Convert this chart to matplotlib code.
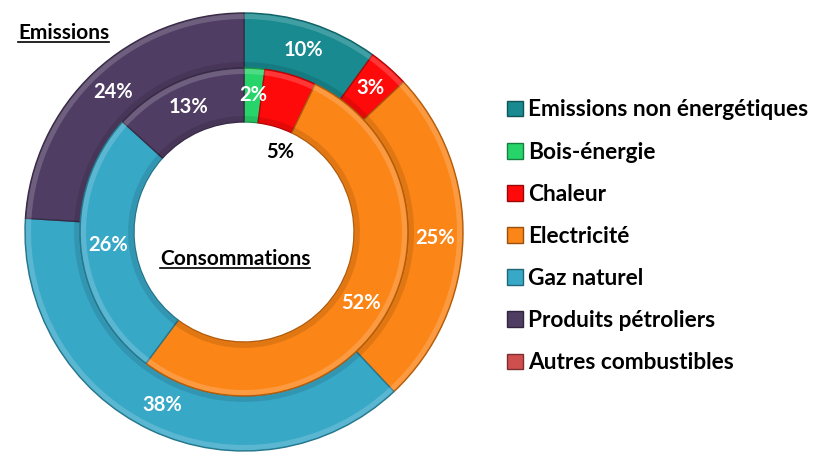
import matplotlib
matplotlib.use("Agg")
import matplotlib.pyplot as plt
import numpy as np
from matplotlib.patches import Patch, Wedge
from matplotlib.colors import to_rgb

plt.rcParams['font.family'] = ['Lato', 'DejaVu Sans']

categories = ['Emissions non énergétiques', 'Bois-énergie', 'Chaleur', 'Electricité',
              'Gaz naturel', 'Produits pétroliers', 'Autres combustibles']
colors = ['#188a90', '#27d46a', '#ff0a0a', '#fb8516', '#38a8c7', '#503d63', '#cf4f4f']

# outer ring: emissions, inner ring: consumption (percent)
emissions = [10, 0, 3, 25, 38, 24, 0]
consommations = [0, 2, 5, 52, 26, 13, 0]


def darker(c, f=0.75):
    r, g, b = to_rgb(c)
    return (r * f, g * f, b * f)


fig = plt.figure(figsize=(8.22, 4.55), dpi=100)
ax = fig.add_axes([0, 0, 1, 1])

cx, cy = 244, 223
r_out, r_mid, r_in = 219, 164, 110


def ring(values, radius, width, label_r, special=None):
    vals = [v for v in values if v > 0]
    cols = [c for v, c in zip(values, colors) if v > 0]
    wedges, _ = ax.pie(vals, colors=cols, radius=radius, center=(cx, cy),
                       startangle=90, counterclock=False, frame=True,
                       wedgeprops=dict(width=width, edgecolor='none'))
    for w, c in zip(wedges, cols):
        w.set_edgecolor(darker(c, 0.7))
        w.set_linewidth(1.0)
        # soft bevel: light rim on the outside, shade on the inside
        ax.add_patch(Wedge((cx, cy), radius - 1, w.theta1, w.theta2, width=5,
                           facecolor='white', alpha=0.18, edgecolor='none'))
        ax.add_patch(Wedge((cx, cy), radius - width + 6, w.theta1, w.theta2, width=5,
                           facecolor='black', alpha=0.10, edgecolor='none'))
    for w, v in zip(wedges, vals):
        ang = np.deg2rad((w.theta1 + w.theta2) / 2)
        rr, col = label_r, 'white'
        if special and v in special:
            rr, ang_deg = special[v]
            ang = np.deg2rad(ang_deg)
            col = 'black'
        ax.text(cx + rr * np.cos(ang), cy + rr * np.sin(ang), f'{v}%',
                ha='center', va='center', fontsize=14.5, fontweight='bold', color=col)
    return wedges


ring(emissions, r_out, r_out - r_mid, (r_out + r_mid) / 2)
ring(consommations, r_mid, r_mid - r_in, (r_mid + r_in) / 2, special={5: (88, 66)})
ax.set_xlim(0, 822)
ax.set_ylim(0, 455)
ax.set_aspect('equal')
ax.axis('off')

# ring titles, underlined
fig.canvas.draw()
rend = fig.canvas.get_renderer()
for txt, x, y in [('Emissions', 18, 422), ('Consommations', 160, 196)]:
    t = ax.text(x, y, txt, ha='left', va='center', fontsize=15, fontweight='bold', color='black')
    bb = t.get_window_extent(rend).transformed(ax.transData.inverted())
    ax.plot([bb.x0, bb.x1], [bb.y0 + 1, bb.y0 + 1], color='black', lw=1.2)

handles = [Patch(facecolor=c, edgecolor=darker(c, 0.6)) for c in colors]
ax.legend(handles, categories, loc='upper left', bbox_to_anchor=(487 / 822, 1 - 79 / 455),
          frameon=False, handlelength=0.7, handleheight=0.7,
          handletextpad=0.2, labelspacing=0.935, prop=dict(weight='bold', size=16.3))

fig.savefig('out.png', dpi=100)
